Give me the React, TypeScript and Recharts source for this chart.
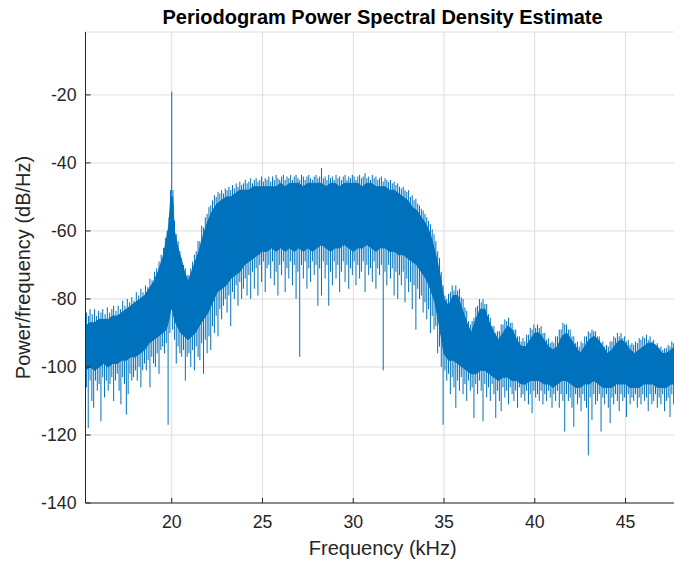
import { ComposedChart, Area, Line, XAxis, YAxis, CartesianGrid } from "recharts";

// axis ticks
const xTicks = [20, 25, 30, 35, 40, 45];
const yTicks = [-140, -120, -100, -80, -60, -40, -20];

// dense core of the PSD trace (kHz, dB/Hz)
const bandFreq = [
  15.25, 15.5, 15.75, 16, 16.25, 16.5, 16.75, 17, 17.25, 17.5, 17.75, 18, 18.25, 18.5, 18.75, 19, 19.25, 19.5,
  19.7, 19.85, 19.95, 20.05, 20.15, 20.3, 20.5, 20.7, 20.9, 21.1, 21.3, 21.5, 21.75, 22, 22.25, 22.5, 22.75,
  23, 23.25, 23.5, 23.75, 24, 24.25, 24.5, 24.75, 25, 25.25, 25.5, 25.75, 26, 26.25, 26.5, 26.75, 27, 27.25,
  27.5, 27.75, 28, 28.25, 28.5, 28.75, 29, 29.25, 29.5, 29.75, 30, 30.25, 30.5, 30.75, 31, 31.25, 31.5, 31.75,
  32, 32.25, 32.5, 32.75, 33, 33.25, 33.5, 33.75, 34, 34.25, 34.5, 34.75, 35, 35.25, 35.5, 35.75, 36, 36.25,
  36.5, 36.75, 37, 37.25, 37.5, 37.75, 38, 38.25, 38.5, 38.75, 39, 39.25, 39.5, 39.75, 40, 40.25, 40.5, 40.75,
  41, 41.25, 41.5, 41.75, 42, 42.25, 42.5, 42.75, 43, 43.25, 43.5, 43.75, 44, 44.25, 44.5, 44.75, 45, 45.25,
  45.5, 45.75, 46, 46.25, 46.5, 46.75, 47, 47.25, 47.5, 47.75, 48,
];
const bandHigh = [
  -88, -87, -87, -86, -86, -86, -85, -85, -84, -83, -82, -81, -80, -79, -77, -75, -72, -68,
  -63, -58, -50, -50, -60, -64, -68, -72, -75, -72, -69, -66, -61, -57, -54, -52, -51,
  -50, -50, -49, -48, -48, -48, -47, -47, -47, -47, -47, -47, -46, -47, -46, -46, -46, -47,
  -46, -46, -46, -46, -47, -46, -46, -47, -46, -46, -46, -46, -47, -46, -46, -47, -47, -47,
  -48, -48, -49, -50, -51, -53, -54, -56, -58, -61, -66, -72, -80, -82, -79, -79, -83, -87,
  -90, -86, -83, -83, -87, -90, -92, -90, -88, -89, -92, -94, -94, -92, -90, -90, -92, -94,
  -95, -94, -91, -90, -92, -94, -96, -94, -92, -91, -92, -94, -96, -95, -93, -92, -93, -95,
  -96, -95, -94, -93, -93, -94, -96, -96, -95, -94, -95,
];
const bandLow = [
  -101, -100, -101, -100, -99, -100, -99, -99, -98, -98, -97, -97, -96, -95, -93, -92, -91, -90,
  -89, -86, -83, -83, -86, -88, -90, -91, -92, -91, -90, -88, -86, -84, -81, -78, -77,
  -76, -74, -73, -72, -70, -69, -68, -67, -66, -66, -65, -66, -65, -66, -65, -66, -65, -66,
  -65, -66, -65, -64, -65, -66, -65, -65, -64, -65, -66, -65, -65, -64, -65, -66, -65, -65,
  -66, -66, -67, -67, -68, -69, -70, -72, -74, -77, -81, -88, -96, -98, -98, -99, -100, -101,
  -102, -102, -101, -101, -102, -103, -104, -103, -103, -104, -104, -105, -105, -104, -104, -104, -105, -105,
  -106, -105, -104, -104, -105, -106, -106, -105, -105, -104, -105, -106, -106, -106, -105, -105, -105, -106,
  -106, -106, -105, -105, -105, -106, -106, -106, -105, -105, -106,
];

// hairlines above the core: [kHz, tip dB/Hz], including the 20 kHz tone
const upSpikes: [number, number][] = [
  [15.3, -84], [15.42, -85], [15.5, -83], [15.62, -84.5], [15.75, -83], [15.85, -85], [15.97, -83.5], [16.1, -84],
  [16.2, -83], [16.33, -84.5], [16.45, -82.5], [16.58, -84], [16.7, -83], [16.8, -82], [16.93, -83.5], [17.05, -82],
  [17.18, -83], [17.3, -80.5], [17.42, -82], [17.55, -80], [17.68, -81], [17.8, -79.5], [17.92, -80.5], [18.05, -78],
  [18.18, -79], [18.3, -77], [18.42, -78], [18.55, -76], [18.68, -76.5], [18.8, -74], [18.92, -74.5], [19.05, -72],
  [19.17, -71], [19.3, -69], [19.42, -67], [19.55, -65], [19.65, -62], [19.75, -60], [19.85, -56], [19.93, -48],
  [20.0, -19], [20.07, -48], [20.15, -57], [20.25, -61], [20.35, -63], [20.45, -66], [20.55, -68], [20.65, -70],
  [20.75, -71], [20.85, -73], [20.95, -73], [21.05, -71], [21.15, -69], [21.25, -67], [21.35, -66], [21.45, -63],
  [21.55, -63], [21.65, -58.5], [21.75, -59], [21.85, -56], [21.95, -55], [22.05, -53], [22.15, -52.5], [22.25, -51],
  [22.35, -49.5], [22.45, -50], [22.55, -48.5], [22.65, -49], [22.75, -48], [22.85, -49], [22.95, -47.5], [23.05, -48],
  [23.15, -47], [23.25, -48], [23.35, -46.5], [23.45, -47.5], [23.55, -46], [23.65, -47], [23.75, -45.5], [23.85, -46.5],
  [23.95, -46], [24.05, -45], [24.15, -46], [24.25, -45.5], [24.35, -44.5], [24.45, -46], [24.55, -45], [24.65, -44.5],
  [24.75, -45.5], [24.85, -45], [24.95, -44], [25.05, -45.5], [25.15, -44.5], [25.25, -45], [25.35, -44], [25.45, -45.5],
  [25.55, -44], [25.65, -45], [25.75, -43.5], [25.85, -44.5], [25.95, -45], [26.05, -44], [26.15, -43.5], [26.25, -45],
  [26.35, -44], [26.45, -44.5], [26.55, -43.5], [26.65, -45], [26.75, -44], [26.85, -43.5], [26.95, -44.5], [27.05, -45],
  [27.15, -43.5], [27.25, -44], [27.35, -45], [27.45, -44], [27.55, -43.5], [27.65, -44.5], [27.75, -45], [27.85, -44],
  [27.95, -43.5], [28.05, -44.5], [28.15, -44], [28.25, -41.5], [28.35, -44.5], [28.45, -44], [28.55, -45], [28.65, -43.5],
  [28.75, -44.5], [28.85, -44], [28.95, -45], [29.05, -43.5], [29.15, -44.5], [29.25, -44], [29.35, -45], [29.45, -44],
  [29.55, -43.5], [29.65, -45], [29.75, -44], [29.85, -44.5], [29.95, -43.5], [30.05, -44], [30.15, -45], [30.25, -44],
  [30.35, -43.5], [30.45, -44.5], [30.55, -44], [30.65, -43], [30.75, -44.5], [30.85, -44], [30.95, -45], [31.05, -43.5],
  [31.15, -44.5], [31.25, -44], [31.35, -45], [31.45, -44.5], [31.55, -44], [31.65, -45.5], [31.75, -44.5], [31.85, -45],
  [31.95, -45.5], [32.05, -45], [32.15, -46], [32.25, -45.5], [32.35, -46.5], [32.45, -46], [32.55, -47], [32.65, -47.5],
  [32.75, -47], [32.85, -48], [32.95, -48.5], [33.05, -48], [33.15, -50], [33.25, -49.5], [33.35, -51], [33.45, -50.5],
  [33.55, -52], [33.65, -52.5], [33.75, -53.5], [33.85, -54], [33.95, -55], [34.05, -56], [34.15, -57], [34.25, -58],
  [34.35, -59.5], [34.45, -61], [34.55, -63], [34.65, -66], [34.75, -68], [34.85, -72], [34.95, -76], [35.05, -79],
  [35.15, -80], [35.25, -78.5], [35.35, -78], [35.45, -76], [35.55, -77.5], [35.65, -76], [35.75, -77.5], [35.85, -77],
  [35.95, -79.5], [36.05, -80], [36.15, -82.5], [36.25, -83.5], [36.35, -86.5], [36.45, -87.5], [36.55, -86.5], [36.65, -85.5],
  [36.75, -82.5], [36.85, -82], [36.95, -80], [37.05, -81], [37.15, -80], [37.25, -81.5], [37.35, -81.5], [37.45, -84.5],
  [37.55, -85.5], [37.65, -88], [37.75, -88], [37.85, -90], [37.95, -89.5], [38.05, -89.5], [38.15, -87.5], [38.25, -87.5],
  [38.35, -86], [38.45, -86.5], [38.55, -85.5], [38.65, -87], [38.75, -87], [38.85, -89], [38.95, -89], [39.05, -91],
  [39.15, -91], [39.25, -92.5], [39.35, -91.5], [39.45, -92.5], [39.55, -90.5], [39.65, -90.5], [39.75, -88.5], [39.85, -89],
  [39.95, -87.5], [40.05, -88.5], [40.15, -87.5], [40.25, -88.5], [40.35, -88], [40.45, -90], [40.55, -90], [40.65, -92],
  [40.75, -91.5], [40.85, -93], [40.95, -92.5], [41.05, -93], [41.15, -91], [41.25, -91], [41.35, -89], [41.45, -89],
  [41.55, -87], [41.65, -87.5], [41.75, -87.5], [41.85, -89], [41.95, -89], [42.05, -91], [42.15, -91], [42.25, -93],
  [42.35, -92.5], [42.45, -94], [42.55, -92.5], [42.65, -93], [42.75, -91], [42.85, -91], [42.95, -89.5], [43.05, -90],
  [43.15, -89], [43.25, -89.5], [43.35, -89.5], [43.45, -91], [43.55, -91], [43.65, -93], [43.75, -92.5], [43.85, -94],
  [43.95, -93.5], [44.05, -94], [44.15, -92.5], [44.25, -92.5], [44.35, -91], [44.45, -91.5], [44.55, -90], [44.65, -91],
  [44.75, -90], [44.85, -91.5], [44.95, -91], [45.05, -92.5], [45.15, -92], [45.25, -93.5], [45.35, -93], [45.45, -93.5],
  [45.55, -92.5], [45.65, -93], [45.75, -91.5], [45.85, -92], [45.95, -91], [46.05, -91.5], [46.15, -90.5], [46.25, -92],
  [46.35, -91], [46.45, -92.5], [46.55, -92], [46.65, -93.5], [46.75, -93], [46.85, -94.5], [46.95, -94], [47.05, -95],
  [47.15, -94.5], [47.25, -94.5], [47.35, -93.5], [47.45, -94], [47.55, -92.5], [47.65, -93], [47.75, -92.5], [47.85, -94],
  [47.95, -93.5],
];

// hairlines below the core: [kHz, tip dB/Hz]
const downSpikes: [number, number][] = [
  [15.3, -106], [15.4, -118], [15.5, -104], [15.6, -110], [15.7, -112], [15.8, -104], [15.9, -107], [16.0, -105],
  [16.1, -116], [16.2, -103], [16.3, -109], [16.4, -104], [16.5, -107], [16.6, -105], [16.7, -103], [16.8, -110],
  [16.9, -104], [17.0, -102], [17.1, -107], [17.2, -111], [17.3, -103], [17.4, -105], [17.5, -114], [17.6, -108],
  [17.7, -102], [17.8, -104], [17.9, -103], [18.0, -101], [18.1, -104], [18.2, -100], [18.3, -106], [18.4, -101],
  [18.5, -99], [18.6, -101], [18.7, -98], [18.8, -106], [18.9, -97], [19.0, -99], [19.1, -100], [19.2, -96],
  [19.3, -102], [19.4, -95], [19.5, -94], [19.6, -96], [19.7, -93], [19.8, -117], [19.9, -90], [20.05, -89],
  [20.15, -92], [20.25, -99], [20.35, -94], [20.45, -96], [20.55, -97], [20.65, -95], [20.75, -104], [20.85, -97],
  [20.95, -96], [21.05, -100], [21.15, -95], [21.25, -101], [21.35, -94], [21.45, -97], [21.55, -98], [21.65, -93],
  [21.75, -102], [21.85, -92], [21.95, -96], [22.05, -91], [22.15, -95], [22.25, -88], [22.35, -90], [22.45, -85],
  [22.55, -91], [22.65, -83], [22.75, -86], [22.85, -82], [22.95, -80], [23.05, -84], [23.15, -79], [23.25, -88],
  [23.35, -78], [23.45, -80], [23.55, -76], [23.65, -82], [23.75, -75], [23.85, -80], [23.95, -77], [24.05, -74],
  [24.15, -79], [24.25, -73], [24.35, -80], [24.45, -72], [24.55, -77], [24.65, -71], [24.75, -79], [24.85, -70],
  [24.95, -75], [25.05, -69], [25.15, -78], [25.25, -71], [25.35, -70], [25.45, -74], [25.55, -69], [25.65, -76],
  [25.75, -72], [25.85, -79], [25.95, -70], [26.05, -73], [26.15, -69], [26.25, -78], [26.35, -71], [26.45, -74],
  [26.55, -69], [26.65, -76], [26.75, -70], [26.85, -80], [26.95, -72], [27.05, -97], [27.15, -70], [27.25, -74],
  [27.35, -69], [27.45, -77], [27.55, -71], [27.65, -75], [27.75, -69], [27.85, -73], [27.95, -70], [28.05, -82],
  [28.15, -71], [28.25, -79], [28.35, -69], [28.45, -74], [28.55, -70], [28.65, -82], [28.75, -72], [28.85, -76],
  [28.95, -69], [29.05, -74], [29.15, -70], [29.25, -78], [29.35, -72], [29.45, -69], [29.55, -75], [29.65, -70],
  [29.75, -77], [29.85, -71], [29.95, -73], [30.05, -69], [30.15, -76], [30.25, -70], [30.35, -74], [30.45, -72],
  [30.55, -69], [30.65, -78], [30.75, -70], [30.85, -73], [30.95, -71], [31.05, -75], [31.15, -69], [31.25, -77],
  [31.35, -71], [31.45, -73], [31.55, -70], [31.65, -101], [31.75, -72], [31.85, -76], [31.95, -70], [32.05, -74],
  [32.15, -71], [32.25, -79], [32.35, -72], [32.45, -80], [32.55, -73], [32.65, -76], [32.75, -72], [32.85, -81],
  [32.95, -74], [33.05, -78], [33.15, -75], [33.25, -83], [33.35, -76], [33.45, -89], [33.55, -77], [33.65, -80],
  [33.75, -79], [33.85, -84], [33.95, -81], [34.05, -86], [34.15, -83], [34.25, -90], [34.35, -85], [34.45, -89],
  [34.55, -88], [34.65, -96], [34.75, -94], [34.85, -100], [34.95, -117], [35.05, -101], [35.15, -104], [35.25, -102],
  [35.35, -108], [35.45, -103], [35.55, -106], [35.65, -112], [35.75, -104], [35.85, -107], [35.95, -103], [36.05, -108],
  [36.15, -105], [36.25, -110], [36.35, -104], [36.45, -107], [36.55, -106], [36.65, -115], [36.75, -105], [36.85, -108],
  [36.95, -104], [37.05, -107], [37.15, -116], [37.25, -105], [37.35, -109], [37.45, -106], [37.55, -110], [37.65, -105],
  [37.75, -108], [37.85, -115], [37.95, -107], [38.05, -110], [38.15, -113], [38.25, -106], [38.35, -109], [38.45, -107],
  [38.55, -111], [38.65, -106], [38.75, -108], [38.85, -110], [38.95, -107], [39.05, -112], [39.15, -106], [39.25, -109],
  [39.35, -108], [39.45, -110], [39.55, -107], [39.65, -111], [39.75, -108], [39.85, -113.6], [39.95, -107], [40.05, -109],
  [40.15, -108], [40.25, -110], [40.35, -107], [40.45, -111], [40.55, -108], [40.65, -110], [40.75, -107], [40.85, -109],
  [40.95, -112], [41.05, -108], [41.15, -110], [41.25, -107], [41.35, -112], [41.45, -108], [41.55, -110], [41.65, -119],
  [41.75, -108], [41.85, -110], [41.95, -109], [42.05, -112], [42.15, -117.6], [42.25, -108], [42.35, -111], [42.45, -109],
  [42.55, -113], [42.65, -108], [42.75, -110], [42.85, -112], [42.95, -126], [43.05, -109], [43.15, -115.6], [43.25, -108],
  [43.35, -111], [43.45, -110], [43.55, -108], [43.65, -119], [43.75, -109], [43.85, -111], [43.95, -108], [44.05, -112],
  [44.15, -116.5], [44.25, -109], [44.35, -111], [44.45, -108], [44.55, -110], [44.65, -113], [44.75, -108], [44.85, -110],
  [44.95, -109], [45.05, -114.7], [45.15, -108], [45.25, -111], [45.35, -109], [45.45, -110], [45.55, -108], [45.65, -112],
  [45.75, -109], [45.85, -111], [45.95, -108], [46.05, -110], [46.15, -109], [46.25, -113], [46.35, -108], [46.45, -111],
  [46.55, -110], [46.65, -108], [46.75, -112], [46.85, -109], [46.95, -111], [47.05, -108], [47.15, -113], [47.25, -110],
  [47.35, -109], [47.45, -114.7], [47.55, -108], [47.65, -111], [47.75, -109], [47.85, -112], [47.95, -110],
];

const bandRows = bandFreq.map((f, i) => ({ f, band: [bandLow[i], bandHigh[i]] }));

// a hairline leaves the core from the middle of the nearest core sample
const coreMid = (f: number) => {
  let best = 0;
  bandFreq.forEach((bf, i) => {
    if (Math.abs(bf - f) < Math.abs(bandFreq[best] - f)) best = i;
  });
  return (bandLow[best] + bandHigh[best]) / 2;
};

// each hairline is its own short segment; a null breaks the path between them
const spikeRows: { f: number; v: number | null }[] = [];
[...downSpikes, ...upSpikes].forEach(([f, tip]) => {
  spikeRows.push({ f, v: coreMid(f) }, { f, v: tip }, { f, v: null });
});

const BLUE = "#0072BD";
const INK = "#262626";
const FONT = "'Liberation Sans', Arial, Helvetica, sans-serif";

const XTick = (props: any) => {
  const { x, y, payload } = props;
  return (
    <g>
      <line x1={x} x2={x} y1={y} y2={y - 5} stroke={INK} />
      <text x={x} y={y + 25} textAnchor="middle" fill={INK} fontSize={17.7} fontFamily={FONT}>
        {payload.value}
      </text>
    </g>
  );
};

const TopTick = (props: any) => {
  const { x, y } = props;
  return <line x1={x} x2={x} y1={y} y2={y + 5} stroke={INK} />;
};

const YTick = (props: any) => {
  const { x, y, payload } = props;
  return (
    <g>
      <line x1={x} x2={x + 5} y1={y} y2={y} stroke={INK} />
      <text x={x - 9} y={y + 6.3} textAnchor="end" fill={INK} fontSize={17.7} fontFamily={FONT}>
        {payload.value}
      </text>
    </g>
  );
};

const XLabel = (props: any) => {
  const vb = props.viewBox;
  return (
    <text x={vb.x + vb.width / 2} y={vb.y + 52} textAnchor="middle" fill={INK} fontSize={20} fontFamily={FONT}>
      Frequency (kHz)
    </text>
  );
};

const YLabel = (props: any) => {
  const vb = props.viewBox;
  const cx = 30;
  const cy = vb.y + vb.height / 2;
  return (
    <text
      x={cx}
      y={cy}
      transform={`rotate(-90, ${cx}, ${cy})`}
      textAnchor="middle"
      fill={INK}
      fontSize={20}
      fontFamily={FONT}
    >
      Power/frequency (dB/Hz)
    </text>
  );
};

export default function App() {
  return (
    <div style={{ position: "absolute", left: 0, top: 0, width: 674, height: 565, overflow: "hidden", background: "#fff" }}>
      <div
        style={{
          position: "absolute",
          left: 0,
          top: 7,
          width: 765,
          textAlign: "center",
          fontFamily: FONT,
          fontWeight: "bold",
          fontSize: 20,
          lineHeight: "20px",
          color: "#000",
          zIndex: 2,
        }}
      >
        Periodogram Power Spectral Density Estimate
      </div>
      <ComposedChart width={680} height={565} data={bandRows} margin={{ top: 32, right: 0, bottom: 0, left: 0 }}>
        <CartesianGrid stroke="#dedede" />
        <XAxis
          dataKey="f"
          type="number"
          domain={[15.25, 48]}
          ticks={xTicks}
          allowDataOverflow
          height={62}
          tickSize={0}
          tickMargin={0}
          tickLine={false}
          axisLine={{ stroke: INK }}
          tick={XTick}
          label={XLabel}
        />
        <XAxis
          xAxisId="top"
          orientation="top"
          type="number"
          domain={[15.25, 48]}
          ticks={xTicks}
          allowDataOverflow
          height={0}
          tickSize={0}
          tickMargin={0}
          tickLine={false}
          axisLine={{ stroke: INK }}
          tick={TopTick}
        />
        <YAxis
          type="number"
          domain={[-140, -1.5]}
          ticks={yTicks}
          allowDataOverflow
          width={85.5}
          tickSize={0}
          tickMargin={0}
          tickLine={false}
          axisLine={{ stroke: INK }}
          tick={YTick}
          label={YLabel}
        />
        <Area
          dataKey="band"
          type="linear"
          fill={BLUE}
          fillOpacity={1}
          stroke={BLUE}
          strokeWidth={1}
          isAnimationActive={false}
        />
        <Line
          data={spikeRows}
          dataKey="v"
          type="linear"
          stroke={BLUE}
          strokeWidth={1}
          dot={false}
          activeDot={false}
          connectNulls={false}
          isAnimationActive={false}
        />
      </ComposedChart>
    </div>
  );
}
